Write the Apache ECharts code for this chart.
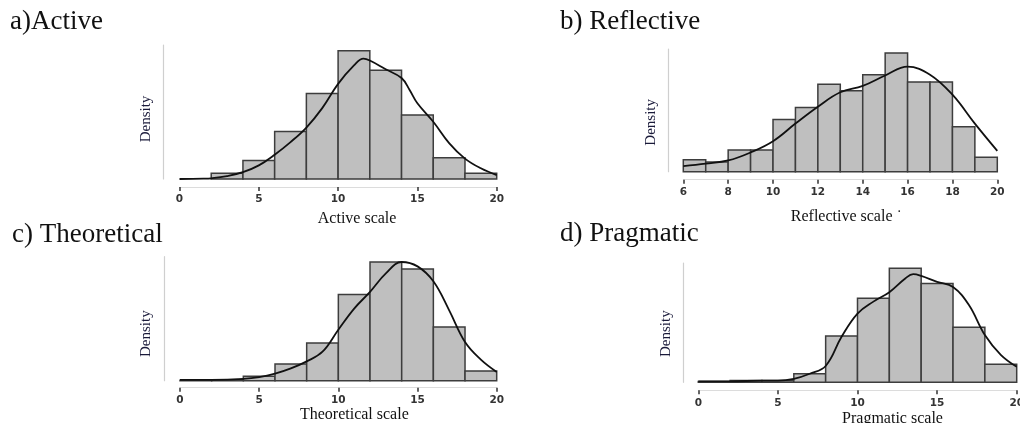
<!DOCTYPE html>
<html>
<head>
<meta charset="utf-8">
<script src="https://cdn.jsdelivr.net/npm/echarts@6/dist/echarts.min.js"></script>
<style>
html,body{margin:0;padding:0;background:#fff;}
#chart{width:1020px;height:423px;}
</style>
</head>
<body>
<div id="chart"></div>
<script>
// ---- Data (densities) ----
const panelTitles = ['a)Active', 'b) Reflective', 'c) Theoretical', 'd) Pragmatic'];
const axisNames = ['Active scale', 'Reflective scale \u02D9', 'Theoretical scale', 'Pragmatic scale'];

// a) Active: bins of width 2
const activeBinStart = [2, 4, 6, 8, 10, 12, 14, 16, 18];
const activeBinWidth = 2;
const activeDensity = [0.006, 0.019, 0.049, 0.088, 0.132, 0.112, 0.066, 0.022, 0.006];
const activeKdeX = [0, 1.5, 2, 3, 4, 5, 6, 7, 8, 9, 10, 11, 11.6, 12, 13, 14, 14.5, 15, 16, 17, 18, 19, 20];
const activeKdeY = [0, 0.0003, 0.0007, 0.003, 0.007, 0.014, 0.025, 0.038, 0.053, 0.073, 0.098, 0.117, 0.124, 0.122, 0.113, 0.104, 0.092, 0.078, 0.059, 0.037, 0.021, 0.011, 0.004];

// b) Reflective: bins of width 1
const reflBinStart = [6, 7, 8, 9, 10, 11, 12, 13, 14, 15, 16, 17, 18, 19];
const reflBinWidth = 1;
const reflDensity = [0.015, 0.012, 0.027, 0.027, 0.065, 0.080, 0.109, 0.101, 0.121, 0.148, 0.112, 0.112, 0.056, 0.018];
const reflKdeX = [6, 7, 8, 9, 10, 11, 12, 13, 14, 15, 16, 17, 18, 19, 20];
const reflKdeY = [0.007, 0.010, 0.014, 0.024, 0.038, 0.060, 0.081, 0.099, 0.107, 0.120, 0.131, 0.121, 0.096, 0.060, 0.026];

// c) Theoretical: bins of width 2
const theoBinStart = [0, 2, 4, 6, 8, 10, 12, 14, 16, 18];
const theoBinWidth = 2;
const theoDensity = [0.0005, 0.001, 0.005, 0.019, 0.043, 0.098, 0.135, 0.127, 0.061, 0.011];
const theoKdeX = [0, 2, 4, 5, 6, 7, 8, 9, 10, 11, 12, 13, 14, 15, 16, 17, 18, 19, 20];
const theoKdeY = [0.001, 0.001, 0.002, 0.004, 0.008, 0.014, 0.022, 0.033, 0.058, 0.082, 0.101, 0.122, 0.135, 0.130, 0.113, 0.080, 0.044, 0.024, 0.010];

// d) Pragmatic: bins of width 2
const pragBinStart = [0, 2, 4, 6, 8, 10, 12, 14, 16, 18];
const pragBinWidth = 2;
const pragDensity = [0.001, 0.002, 0.002, 0.010, 0.054, 0.098, 0.133, 0.115, 0.064, 0.021];
const pragKdeX = [0, 2, 4, 5, 6, 7, 8, 9, 10, 11, 12, 13, 13.5, 14, 15, 16, 17, 18, 19, 20];
const pragKdeY = [0.001, 0.001, 0.002, 0.002, 0.004, 0.010, 0.019, 0.053, 0.080, 0.094, 0.105, 0.121, 0.126, 0.124, 0.117, 0.111, 0.090, 0.055, 0.032, 0.018];

// x-axis tick settings
const xMins = [0, 6, 0, 0];
const xMaxs = [20, 20, 20, 20];
const xIntervals = [5, 2, 5, 5];
const yMaxs = [0.138, 0.153, 0.141, 0.139];

// ---- Layout (pixels) ----
const layout = [
  {left: 179.5, width: 317.2, top: 45, height: 134, yOff: 16, xOff: 8, nameGap: 24, namePad: 38, densPad: 14, title: [10, 8]},
  {left: 683.3, width: 314, top: 49, height: 122.7, yOff: 15, xOff: 8, nameGap: 29, namePad: 12, densPad: 24, title: [560, 8]},
  {left: 180, width: 316.7, top: 256.7, height: 124, yOff: 16, xOff: 7, nameGap: 17, namePad: 32, densPad: 30, title: [12, 221]},
  {left: 698.3, width: 318.4, top: 263, height: 119.3, yOff: 15, xOff: 8, nameGap: 20, namePad: 70, densPad: 22, title: [560, 220]}
];

const bins = [
  [activeBinStart, activeBinWidth, activeDensity],
  [reflBinStart, reflBinWidth, reflDensity],
  [theoBinStart, theoBinWidth, theoDensity],
  [pragBinStart, pragBinWidth, pragDensity]
];
const kdes = [
  [activeKdeX, activeKdeY],
  [reflKdeX, reflKdeY],
  [theoKdeX, theoKdeY],
  [pragKdeX, pragKdeY]
];

const grid = [], xAxis = [], yAxis = [], series = [], title = [];
const serif = '"Liberation Serif", "Times New Roman", serif';

for (let i = 0; i < 4; i++) {
  const L = layout[i];
  grid.push({left: L.left, top: L.top, width: L.width, height: L.height, containLabel: false, outerBoundsMode: 'none'});
  title.push({
    text: panelTitles[i], left: L.title[0], top: L.title[1], padding: 0,
    textStyle: {fontFamily: serif, fontSize: 27, fontWeight: 'normal', color: '#111'}
  });
  xAxis.push({
    type: 'value', gridIndex: i, min: xMins[i], max: xMaxs[i], interval: xIntervals[i],
    offset: L.xOff,
    axisLine: {show: true, onZero: false, lineStyle: {color: '#dcdcdc', width: 1}},
    axisTick: {show: true, length: 4, lineStyle: {color: '#333', width: 1.5}},
    axisLabel: {show: true, margin: 7, fontFamily: '"DejaVu Sans", sans-serif', fontWeight: 'bold', fontSize: 10.5, color: '#333'},
    splitLine: {show: false},
    name: axisNames[i], nameLocation: 'middle', nameGap: L.nameGap,
    nameTextStyle: {fontFamily: serif, fontSize: 16, color: '#111', padding: [0, 0, 0, L.namePad]}
  });
  yAxis.push({
    type: 'value', gridIndex: i, min: 0, max: yMaxs[i], offset: L.yOff,
    axisLine: {show: true, onZero: false, lineStyle: {color: '#cfcfcf', width: 1.2}},
    axisTick: {show: false}, axisLabel: {show: false}, splitLine: {show: false},
    name: 'Density', nameLocation: 'middle', nameGap: 10, nameRotate: 90,
    nameTextStyle: {fontFamily: serif, fontSize: 15, color: '#1a1a3a', padding: [0, L.densPad, 0, 0]}
  });
  const [starts, w, dens] = bins[i];
  series.push({
    type: 'custom', xAxisIndex: i, yAxisIndex: i,
    data: starts.map((s, k) => [s, s + w, dens[k]]),
    encode: {x: [0, 1], y: 2},
    renderItem: function (params, api) {
      const p0 = api.coord([api.value(0), api.value(2)]);
      const p1 = api.coord([api.value(1), 0]);
      return {
        type: 'rect',
        shape: {x: p0[0], y: p0[1], width: p1[0] - p0[0], height: p1[1] - p0[1]},
        style: {fill: '#bfbfbf', stroke: '#3d3d3d', lineWidth: 1.5}
      };
    },
    z: 2
  });
  const [kx, ky] = kdes[i];
  series.push({
    type: 'line', xAxisIndex: i, yAxisIndex: i,
    data: kx.map((x, k) => [x, ky[k]]),
    smooth: 0.4, showSymbol: false, symbol: 'none',
    lineStyle: {color: '#111', width: 1.8},
    z: 5
  });
}

const chart = echarts.init(document.getElementById('chart'), null, {renderer: 'canvas'});
chart.setOption({
  animation: false,
  backgroundColor: '#fff',
  title: title, grid: grid, xAxis: xAxis, yAxis: yAxis, series: series
});
</script>
</body>
</html>
